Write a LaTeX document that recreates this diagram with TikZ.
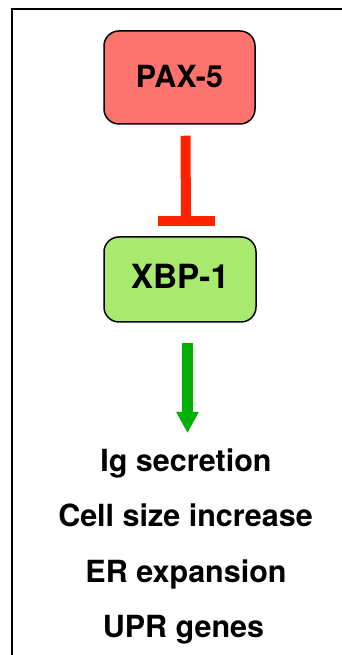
\documentclass[tikz,border=0pt]{standalone}
\usepackage{fontspec}
\setmainfont{TeX Gyre Heros}
\usetikzlibrary{arrows.meta}
\definecolor{paxfill}{HTML}{FF736E}
\definecolor{xbpfill}{HTML}{A8EA6E}
\definecolor{inhred}{HTML}{FF2200}
\definecolor{actgreen}{HTML}{00B000}
\tikzset{
  genebox/.style={draw=black, line width=1.5pt, rounded corners=15pt, inner sep=0pt, font=\bfseries\fontsize{30.5}{36}\selectfont},
  outcome/.style={anchor=base, inner sep=0pt, font=\bfseries\fontsize{30.5}{36}\selectfont},
  inhibit/.style={draw=inhred, line width=10pt},
  activate/.style={draw=actgreen, line width=10.5pt, -{Triangle[width=21pt,length=21pt]}},
  frame/.style={draw=black, line width=2.3pt}
}
\begin{document}
\begin{tikzpicture}[x=1pt,y=1pt]
\useasboundingbox (0,0) rectangle (342,655);
\clip (0,0) rectangle (342,655);
\draw[frame] (12,-20) rectangle (370,646);
\node[genebox, fill=paxfill, minimum width=151pt, minimum height=93pt, text depth=3pt] (pax) at (179.5,577.5) {PAX-5};
\node[genebox, fill=xbpfill, minimum width=152pt, minimum height=85pt, text depth=7pt, font=\bfseries\fontsize{33.3}{40}\selectfont] (xbp) at (180,375.5) {XBP-1};
\coordinate (tee) at ([xshift=6pt,yshift=15pt]xbp.north);
\draw[inhibit] ([xshift=6pt,yshift=-11pt]pax.south) -- (tee);
\draw[inhibit] ([xshift=-28.5pt]tee) -- ([xshift=28.5pt]tee);
\node[outcome] (ig) at (186,183) {Ig secretion};
\node[outcome] (cell) at (185.5,128) {Cell size increase};
\node[outcome] (er) at (186,72) {ER expansion};
\node[outcome] (upr) at (183.5,17) {UPR genes};
\coordinate (arrowend) at (187.5,222);
\draw[activate] ([xshift=7.5pt,yshift=-20pt]xbp.south) -- (arrowend);
\end{tikzpicture}
\end{document}
